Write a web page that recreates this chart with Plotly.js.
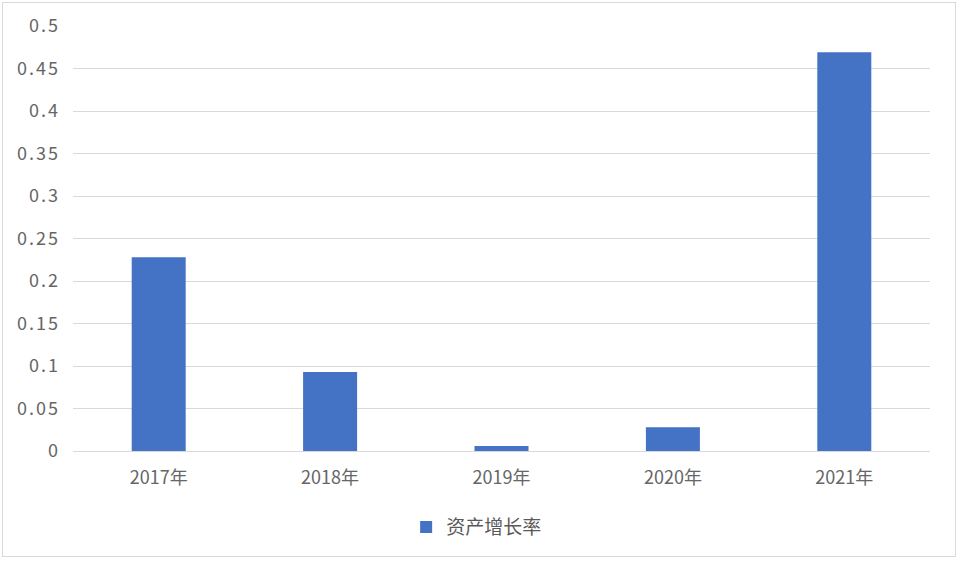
<!DOCTYPE html>
<html>
<head>
<meta charset="utf-8">
<script src="https://cdn.plot.ly/plotly-3.0.1.min.js"></script>
<style>
  body { margin: 0; background: #fff; }
  #wrap { position: relative; width: 960px; height: 561px; }
  #chart { width: 960px; height: 561px; }
  #frame { position: absolute; left: 2px; top: 2px; width: 952px; height: 553px;
           border: 1.5px solid #d9d9d9; pointer-events: none; }
  #chart .ytick text { letter-spacing: 2px; }
</style>
</head>
<body>
<div id="wrap">
  <div id="chart"></div>
  <div id="frame"></div>
</div>
<script>
// 数据
const years = ['2017年', '2018年', '2019年', '2020年', '2021年'];
const growth = [0.228, 0.093, 0.006, 0.028, 0.469];
const seriesName = '资产增长率';

const font = '"Noto Sans CJK SC", "Noto Sans", sans-serif';

var trace = {
    type: 'bar',
    x: years,
    y: growth,
    name: seriesName,
    marker: { color: '#4472C4' },
    hoverinfo: 'x+y'
};

var layout = {
    width: 960,
    height: 561,
    margin: { l: 73, r: 30, t: 26, b: 110 },
    paper_bgcolor: '#fff',
    plot_bgcolor: '#fff',
    bargap: 0.685,
    showlegend: true,
    legend: {
        orientation: 'h',
        x: 0.471,
        xanchor: 'center',
        y: -0.179,
        yanchor: 'middle',
        font: { family: font, size: 19, color: '#595959' }
    },
    xaxis: {
        type: 'category',
        showgrid: false,
        showline: false,
        zeroline: false,
        ticks: '',
        ticklabelstandoff: 14,
        tickfont: { family: font, size: 18, color: '#666666' }
    },
    yaxis: {
        range: [0, 0.5],
        dtick: 0.05,
        tick0: 0,
        showgrid: true,
        gridcolor: '#d9d9d9',
        gridwidth: 1.3,
        zeroline: true,
        zerolinecolor: '#d9d9d9',
        zerolinewidth: 1.3,
        showline: false,
        ticks: '',
        ticklabelstandoff: 12,
        tickfont: { family: font, size: 18, color: '#666666' }
    }
};

Plotly.newPlot('chart', [trace], layout, { displayModeBar: false });
</script>
</body>
</html>
